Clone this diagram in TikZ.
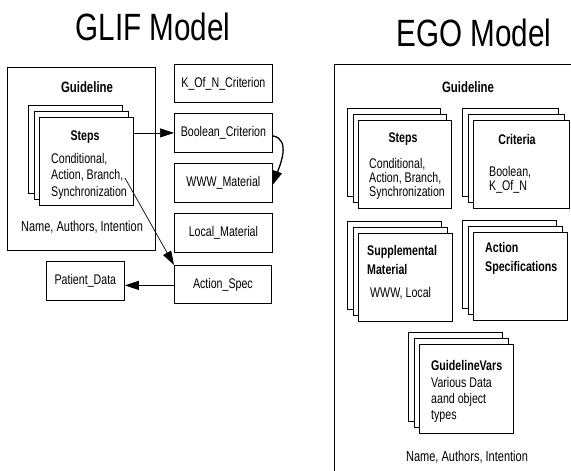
\documentclass[tikz,border=0pt]{standalone}
\usepackage{fontspec}
\setmainfont[FakeStretch=0.76]{Liberation Sans}
\newfontfamily\titlefont[FakeStretch=0.78]{Liberation Sans}
\usetikzlibrary{arrows.meta}
\tikzset{
  box/.style={draw, line width=0.8pt, fill=white, inner sep=0pt},
  sheet/.style={draw, line width=0.8pt, fill=white, inner sep=0pt, anchor=north west},
  lbl/.style={inner sep=0pt, font=\fontsize{14}{16}\selectfont},
  bhead/.style={inner sep=0pt, font=\fontsize{14}{16}\selectfont\bfseries},
  ttl/.style={inner sep=0pt, font=\fontsize{38}{40}\titlefont},
  link/.style={line width=0.7pt, -{Triangle[length=14pt, width=9pt]}},
}
% three stacked sheets; the front one is named #1
\newcommand{\sheetstack}[5]{%
  \node[sheet, minimum width=#4, minimum height=#5] (#1-back) at (#2,#3) {};
  \node[sheet, minimum width=#4, minimum height=#5] (#1-mid) at (#2+5.5,#3+6) {};
  \node[sheet, minimum width=#4, minimum height=#5] (#1) at (#2+11,#3+12) {};
}
\begin{document}
\begin{tikzpicture}[x=1pt, y=-1pt]
\useasboundingbox (0,0) rectangle (571,471);
\clip (0,0) rectangle (571,471);

% ---------------- GLIF ----------------
\node[ttl] (glif) at (153,27) {GLIF Model};
\node[box, anchor=north west, minimum width=148, minimum height=183] (gl) at (7,67) {};
\node[bhead, font=\fontsize{15}{16}\selectfont\bfseries] (gltitle) at (87,87) {Guideline};
\sheetstack{gsteps}{28}{105}{94}{88}
\node[bhead] (gstepsT) at (85,137) {Steps};
\node[lbl, align=left, anchor=west, font=\fontsize{14}{16.5}\selectfont] (gstepsL) at (51,176)
  {Conditional,\\Action, Branch,\\Synchronization};
\node[lbl, font=\fontsize{14.5}{16}\selectfont] (glname) at (82,227) {Name, Authors, Intention};

\node[box, anchor=north west, minimum width=98, minimum height=38, lbl] (kofn) at (174,64) {K\_Of\_N\_Criterion};
\node[box, anchor=north west, minimum width=98, minimum height=39, lbl] (bool) at (174,113) {Boolean\_Criterion};
\node[box, anchor=north west, minimum width=98, minimum height=39, lbl] (www) at (174,163) {WWW\_Material};
\node[box, anchor=north west, minimum width=98, minimum height=39, lbl] (local) at (174,213) {Local\_Material};
\node[box, anchor=north west, minimum width=97, minimum height=38, lbl] (aspec) at (174,265) {Action\_Spec};
\node[box, anchor=north west, minimum width=78, minimum height=39, lbl] (pdata) at (46,261) {Patient\_Data};

\coordinate (branch) at (125,178);
\draw[link] (gsteps.east |- bool.west) -- (bool.west);
\draw[link, line width=1.3pt] ([yshift=-3pt]bool.east) to[out=-10, in=70] ([yshift=-2pt]www.east);
\draw[link] (branch) -- (aspec.north west);
\draw[link] ([yshift=-1pt]aspec.west) -- ([yshift=-1pt]aspec.west -| pdata.east);

% ---------------- EGO ----------------
\node[ttl] (ego) at (474,33) {EGO Model};
\node[box, fill=none, anchor=north west, minimum width=300, minimum height=450] (eg) at (334,64) {};
\node[bhead, font=\fontsize{15}{16}\selectfont\bfseries] (egtitle) at (468,87) {Guideline};

\sheetstack{esteps}{347}{108}{93}{88}
\node[bhead] (estepsT) at (403,139) {Steps};
\node[lbl, align=left, anchor=west, font=\fontsize{14}{14}\selectfont] (estepsL) at (369,179) {Conditional,\\Action, Branch,\\Synchronization};

\sheetstack{crit}{462}{108}{96}{88}
\node[bhead] (critT) at (517,139) {Criteria};
\node[lbl, align=left, anchor=west, font=\fontsize{14}{14.5}\selectfont] (critL) at (489,180) {Boolean,\\K\_Of\_N};

\sheetstack{supp}{347}{221}{94}{88}
\node[bhead, align=left, anchor=west, font=\fontsize{14}{19}\selectfont\bfseries] (suppT) at (367,259.5) {Supplemental\\Material};
\node[lbl, anchor=west] (suppL) at (370,293) {WWW, Local};

\sheetstack{act}{462}{220}{94}{88}
\node[bhead, align=left, anchor=west, font=\fontsize{14}{19}\selectfont\bfseries] (actT) at (485,258.5) {Action\\Specifications};

\sheetstack{gvars}{408}{332}{94}{89}
\node[bhead, anchor=west] (gvarsT) at (431,365) {GuidelineVars};
\node[lbl, align=left, anchor=west, font=\fontsize{14}{16}\selectfont] (gvarsL) at (431,400) {Various Data\\aand object\\types};

\node[lbl, font=\fontsize{14.5}{16}\selectfont] (egname) at (467,457) {Name, Authors, Intention};
\end{tikzpicture}
\end{document}
